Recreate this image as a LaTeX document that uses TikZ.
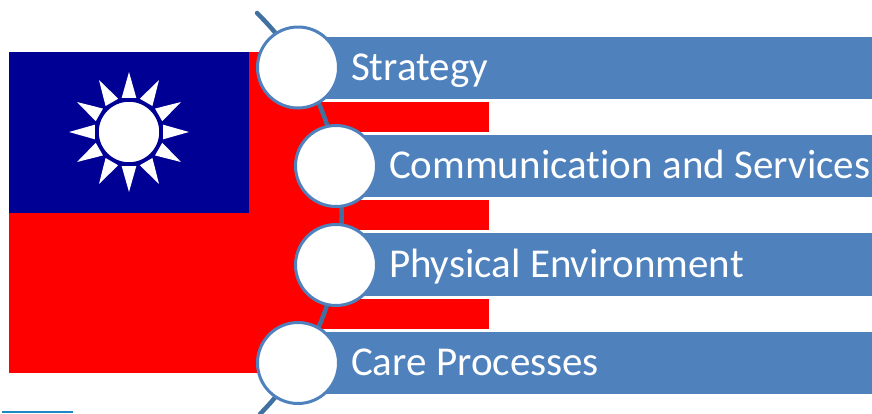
\documentclass[tikz,border=0pt]{standalone}
\usepackage{fontspec}
\usepackage{xcolor}
\setmainfont{Carlito}[Ligatures=NoCommon]
\usetikzlibrary{calc, positioning, backgrounds}
\definecolor{FlagRed}{RGB}{254, 0, 0}
\definecolor{FlagBlue}{RGB}{0, 0, 149}
\definecolor{BarBlue}{RGB}{79, 129, 189}
\definecolor{ArcBlue}{RGB}{65, 113, 160}
\definecolor{StripBlue}{RGB}{30, 136, 196}
\tikzset{
	barbox/.style={anchor=west, fill=BarBlue, draw=white, line width=3pt, text=white, font=\fontsize{41}{41}\selectfont, execute at begin node={\spaceskip=9.5pt\relax}, minimum height=65.5pt, text height=32pt, text depth=7pt, inner ysep=0pt, inner xsep=40pt, text width=600pt, align=left},
	ringbox/.style={circle, fill=white, draw=BarBlue, line width=3pt, minimum size=81pt, inner sep=0pt},
}
\begin{document}
\begin{tikzpicture}[x=1pt, y=-1pt]
\useasboundingbox (0,0) rectangle (872,413);

% flag
\fill[FlagRed] (9,52) rectangle (489,373);
\fill[FlagBlue] (9,52) rectangle (249,212.5);
\foreach \ang in {0,30,...,330}{
	\fill[white] ($(129,132)+(\ang:60)$) -- ($(129,132)+(\ang+12:35)$) -- ($(129,132)+(\ang-12:35)$) -- cycle;
}
\draw[fill=white, draw=FlagBlue, line width=2.5pt] (129,132) circle (31.5);

% spine behind the circles
\coordinate (spinetop) at (257,13);
\coordinate (spinebot) at (260,414);
\draw[ArcBlue, line width=4.5pt, line cap=round] (spinetop) to[bend left=45] (spinebot);

% bars
\node[barbox] (strategy) at (309.5,67.8) {Strategy};
\node[barbox] (comm) at (347.5,166) {Communication and Services};
\node[barbox] (physical) at (347.5,264.5) {Physical Environment};
\node[barbox] (care) at (309.5,363) {Care Processes};

% circles
\node[ringbox] (ringa) at (298,67.5) {};
\node[ringbox] (ringb) at (336,166) {};
\node[ringbox] (ringc) at (336,265) {};
\node[ringbox] (ringd) at (298,363) {};

\fill[StripBlue] (2,411) rectangle (73,413);
\end{tikzpicture}
\end{document}
